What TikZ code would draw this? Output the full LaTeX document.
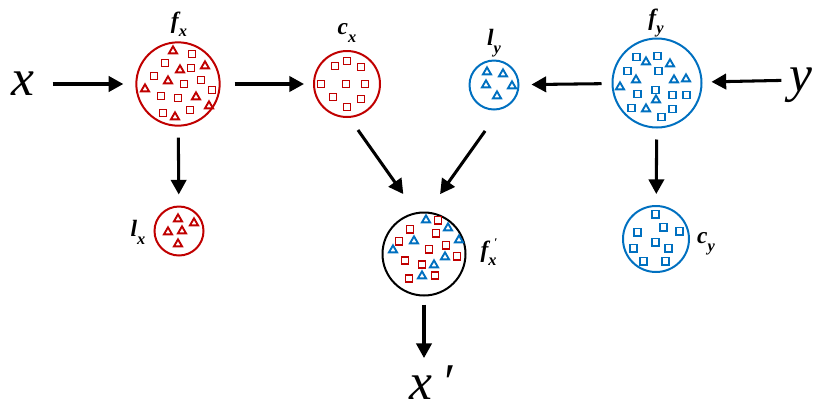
\documentclass[tikz,border=0pt]{standalone}
\usepackage{fontspec}
\setmainfont{Liberation Serif}
\usetikzlibrary{arrows.meta,shapes.geometric}
\definecolor{featred}{HTML}{C00000}
\definecolor{featblue}{HTML}{0070C0}
\newcommand{\subsz}{\fontsize{14}{14}\selectfont}
\newcommand{\featlbl}[2]{#1\raisebox{-0.35em}{\subsz #2}}
\tikzset{
  feat/.style={circle,draw=#1,line width=1.7pt,inner sep=0pt,outer sep=0pt},
  sq/.style={rectangle,draw=#1,line width=1.7pt,minimum size=0.21cm,inner sep=0pt},
  tri/.style={regular polygon,regular polygon sides=3,draw=#1,line width=1.6pt,minimum size=0.28cm,inner sep=0pt},
  big/.style={font=\fontsize{44}{46}\selectfont\itshape,inner sep=0pt,text height=20pt,text depth=0pt},
  lbl/.style={font=\fontsize{20}{22}\selectfont\bfseries\itshape,inner sep=0pt},
  edge/.style={-{Triangle[length=4.4mm,width=4.6mm]},line width=2.6pt,shorten <=0.36cm,shorten >=0.36cm}
}

\begin{document}
\begin{tikzpicture}[x=0.03cm,y=-0.03cm]
  \useasboundingbox (0,0) rectangle (830,414);
  \node[feat=featred,minimum size=2.5cm] (fx) at (178,84) {};
  \node[feat=featred,minimum size=1.98cm] (cx) at (347,84) {};
  \node[feat=featred,minimum size=1.47cm] (lx) at (179,231) {};
  \node[feat=featblue,minimum size=2.67cm] (fy) at (657,83) {};
  \node[feat=featblue,minimum size=1.47cm] (ly) at (494,85) {};
  \node[feat=featblue,minimum size=1.98cm] (cy) at (656,239) {};
  \node[feat=black,minimum size=2.49cm] (fxp) at (424,254) {};

  \node[big] (x) at (23,84) {x};
  \node[big] (y) at (801,80) {y};
  \node[big] (xp) at (431,388) {x\,\char"2032};

  \node[lbl] (fxl) at (179,24) {\featlbl{f}{x}};
  \node[lbl] (cxl) at (347,33) {\featlbl{c}{x}};
  \node[lbl] (lyl) at (494,43) {\featlbl{l}{y}};
  \node[lbl] (fyl) at (656,23) {\featlbl{f}{y}};
  \node[lbl] (lxl) at (138,232) {\featlbl{l}{x}};
  \node[lbl] (cyl) at (706,244) {\featlbl{c}{y}};
  \node[lbl] (fxpl) at (489,252) {f\raisebox{-0.35em}{\subsz x}\kern-0.1em\raisebox{0.45em}{\fontsize{10}{10}\selectfont\char"2032}};

  \begin{scope}[shift={(fx)}]
    \foreach \p in {(14,-30),(-13,-21),(13,-16),(-24,-8),(23,-4),(6,0),(34,6),(-17,12),(0,14),(12,26),(-15,29)}
      \node[sq=featred] at \p {};
    \foreach \p in {(-5,-33),(2,-14),(27,-18),(-10,-3),(-33,5),(18,13),(31,22),(-3,33)}
      \node[tri=featred] at \p {};
  \end{scope}
  \begin{scope}[shift={(cx)}]
    \foreach \p in {(-12,-18),(0,-23),(14,-17),(-26,0),(-1,0),(18,0),(-14,13),(14,15),(0,23)}
      \node[sq=featred] at \p {};
  \end{scope}
  \begin{scope}[shift={(lx)}]
    \foreach \p in {(-1,-12),(15,-8),(-11,1),(3,0),(-1,13)}
      \node[tri=featred] at \p {};
  \end{scope}
  \begin{scope}[shift={(ly)}]
    \foreach \p in {(-7,-13),(9,-11),(-8,0),(18,1),(3,11)}
      \node[tri=featblue] at \p {};
  \end{scope}
  \begin{scope}[shift={(fy)}]
    \foreach \p in {(-21,-26),(0,-27),(-30,-12),(1,-12),(-2,7),(-20,11),(15,12),(29,12),(-26,25),(15,26),(4,34)}
      \node[sq=featblue] at \p {};
    \foreach \p in {(-11,-21),(13,-19),(-21,-3),(17,-3),(29,-4),(-37,4),(-1,17),(-11,26)}
      \node[tri=featblue] at \p {};
  \end{scope}
  \begin{scope}[shift={(cy)}]
    \foreach \p in {(-1,-25),(7,-12),(-19,-7),(23,-8),(-1,3),(12,9),(-23,9),(-13,22),(9,22)}
      \node[sq=featblue] at \p {};
  \end{scope}
  \begin{scope}[shift={(fxp)}]
    \foreach \p in {(14,-34),(-14,-25),(12,-21),(-25,-13),(22,-9),(5,-5),(33,2),(-19,6),(-2,10),(-15,24),(11,21)}
      \node[sq=featred] at \p {};
    \foreach \p in {(2,-34),(24,-26),(-10,-13),(35,-14),(-31,-4),(21,3),(10,11),(-2,22)}
      \node[tri=featblue] at \p {};
  \end{scope}

  \draw[edge,shorten <=0.54cm,shorten >=0.39cm] (x) -- (fx);
  \draw[edge,shorten <=0.45cm,shorten >=0.3cm] (fx) -- (cx);
  \draw[edge,shorten <=0.33cm,shorten >=0.39cm] (fy) -- (ly);
  \draw[edge,shorten <=0.24cm,shorten >=0.3cm] (y) -- (fy);
  \draw[edge] (fx) -- (lx);
  \draw[edge] (fy) -- (cy);
  \draw[edge,shorten <=0.48cm,shorten >=0.7cm] (cx.-87) -- (fxp.100);
  \draw[edge,shorten <=0.83cm,shorten >=0.68cm] (ly.-73) -- (fxp.86);
  \draw[edge,shorten <=0.27cm,shorten >=0.54cm] (fxp.south) -- (fxp.south |- xp.north);
\end{tikzpicture}
\end{document}
